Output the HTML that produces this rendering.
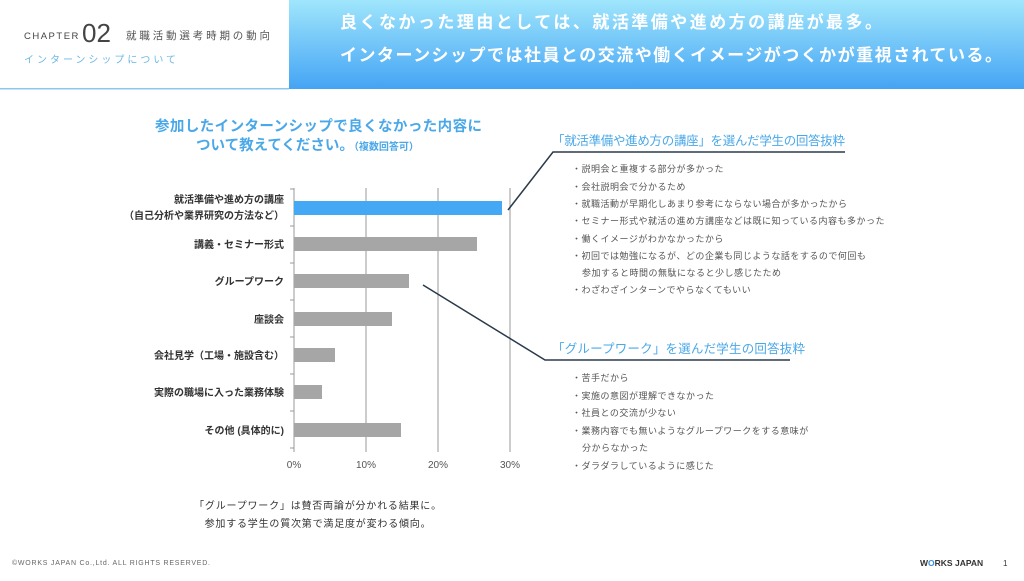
<!DOCTYPE html>
<html><head><meta charset="utf-8"><style>
body{margin:0;width:1024px;height:576px;overflow:hidden;background:#fff;font-family:"Liberation Sans","Noto Sans CJK JP",sans-serif}
</style></head><body>
<svg width="1024" height="576" xmlns="http://www.w3.org/2000/svg" font-family="Liberation Sans, Noto Sans CJK JP, sans-serif">
<defs><linearGradient id="g" x1="0" y1="0" x2="0" y2="1"><stop offset="0" stop-color="#a0e6fc"/><stop offset="1" stop-color="#44a4f4"/></linearGradient></defs>
<rect x="289" y="0" width="735" height="89" fill="url(#g)"/>
<rect x="0" y="88" width="289" height="1.5" fill="#8cc8ec"/>
<text x="24" y="39" font-size="9.5" fill="#444" letter-spacing="1.5">CHAPTER</text>
<text x="82" y="42" font-size="26" fill="#444">02</text>
<text x="126" y="39" font-size="10.5" fill="#555" textLength="144">就職活動選考時期の動向</text>
<text x="24" y="63" font-size="10" fill="#6cb8e4" textLength="152">インターンシップについて</text>
<text x="340" y="28" font-size="17" font-weight="bold" fill="#fff" textLength="542">良くなかった理由としては、就活準備や進め方の講座が最多。</text>
<text x="340" y="61" font-size="17" font-weight="bold" fill="#fff" textLength="662">インターンシップでは社員との交流や働くイメージがつくかが重視されている。</text>
<text x="155" y="131" font-size="14.5" font-weight="bold" fill="#4aa8e8" textLength="327">参加したインターンシップで良くなかった内容に</text>
<text x="196" y="150" font-size="14.5" font-weight="bold" fill="#4aa8e8">ついて教えてください。<tspan font-size="10">（複数回答可）</tspan></text>
<g stroke="#999" stroke-width="1">
<line x1="366" y1="188" x2="366" y2="452"/><line x1="438" y1="188" x2="438" y2="452"/><line x1="510" y1="188" x2="510" y2="452"/>
<line x1="294" y1="188" x2="294" y2="452"/>
<line x1="290" y1="189" x2="294" y2="189"/><line x1="290" y1="226" x2="294" y2="226"/><line x1="290" y1="263" x2="294" y2="263"/><line x1="290" y1="300" x2="294" y2="300"/><line x1="290" y1="337" x2="294" y2="337"/><line x1="290" y1="374" x2="294" y2="374"/><line x1="290" y1="411" x2="294" y2="411"/><line x1="290" y1="448" x2="294" y2="448"/>
</g>
<rect x="294" y="201" width="208" height="14" fill="#44a8f4"/>
<g fill="#a6a6a6">
<rect x="294" y="237" width="183" height="14"/><rect x="294" y="274" width="115" height="14"/><rect x="294" y="312" width="98" height="14"/><rect x="294" y="348" width="41" height="14"/><rect x="294" y="385" width="28" height="14"/><rect x="294" y="423" width="107" height="14"/>
</g>
<g font-size="10" font-weight="bold" fill="#333" text-anchor="end">
<text x="284" y="203">就活準備や進め方の講座</text>
<text x="284" y="219">（自己分析や業界研究の方法など）</text>
<text x="284" y="248">講義・セミナー形式</text>
<text x="284" y="285">グループワーク</text>
<text x="284" y="323">座談会</text>
<text x="284" y="359">会社見学（工場・施設含む）</text>
<text x="284" y="396">実際の職場に入った業務体験</text>
<text x="284" y="434">その他 (具体的に)</text>
</g>
<g font-size="10" fill="#555" text-anchor="middle">
<text x="294" y="468">0%</text><text x="366" y="468">10%</text><text x="438" y="468">20%</text><text x="510" y="468">30%</text>
</g>
<polyline points="508,210 553,152 845,152" fill="none" stroke="#2a3a4a" stroke-width="1.5"/>
<polyline points="423,285 545,360 790,360" fill="none" stroke="#2a3a4a" stroke-width="1.5"/>
<text x="552" y="145" font-size="12.5" fill="#4aa8e8" textLength="293">「就活準備や進め方の講座」を選んだ学生の回答抜粋</text>
<text x="552" y="353" font-size="12.5" fill="#4aa8e8" textLength="253">「グループワーク」を選んだ学生の回答抜粋</text>
<g font-size="9" fill="#555" letter-spacing="0.5">
<text x="572" y="172">・説明会と重複する部分が多かった</text>
<text x="572" y="190">・会社説明会で分かるため</text>
<text x="572" y="207">・就職活動が早期化しあまり参考にならない場合が多かったから</text>
<text x="572" y="224">・セミナー形式や就活の進め方講座などは既に知っている内容も多かった</text>
<text x="572" y="242">・働くイメージがわかなかったから</text>
<text x="572" y="259">・初回では勉強になるが、どの企業も同じような話をするので何回も</text>
<text x="582" y="276">参加すると時間の無駄になると少し感じたため</text>
<text x="572" y="293">・わざわざインターンでやらなくてもいい</text>
<text x="572" y="381">・苦手だから</text>
<text x="572" y="399">・実施の意図が理解できなかった</text>
<text x="572" y="416">・社員との交流が少ない</text>
<text x="572" y="434">・業務内容でも無いようなグループワークをする意味が</text>
<text x="582" y="451">分からなかった</text>
<text x="572" y="469">・ダラダラしているように感じた</text>
</g>
<text x="318" y="509" font-size="10" fill="#333" text-anchor="middle" letter-spacing="0.8">「グループワーク」は賛否両論が分かれる結果に。</text>
<text x="318" y="527" font-size="10" fill="#333" text-anchor="middle" letter-spacing="0.8">参加する学生の質次第で満足度が変わる傾向。</text>
<text x="12" y="565" font-size="7" fill="#666" textLength="198">©WORKS JAPAN Co.,Ltd. ALL RIGHTS RESERVED.</text>
<text x="920" y="566" font-size="8.5" font-weight="bold" fill="#333">W<tspan fill="#3a8fd8">O</tspan>RKS JAPAN</text>
<text x="1003" y="566" font-size="8" fill="#333">1</text>
</svg>
</body></html>
